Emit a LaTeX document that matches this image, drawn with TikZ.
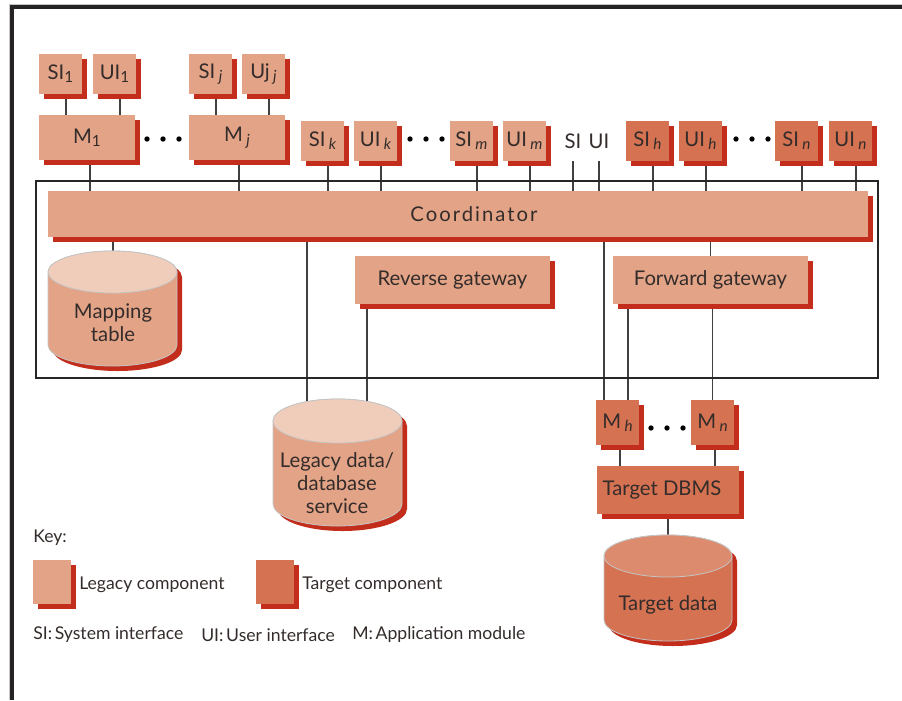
\documentclass[tikz,border=0pt]{standalone}
\usepackage{fontspec}
\setmainfont{Lato}
\usetikzlibrary{shadows,backgrounds}
\definecolor{leg}{HTML}{E3A387}
\definecolor{tgt}{HTML}{D57252}
\definecolor{shd}{HTML}{C22E1B}
\definecolor{legtop}{HTML}{F0CDBB}
\definecolor{tgttop}{HTML}{DD8B6E}
\definecolor{txt}{HTML}{332C2A}
\definecolor{cylline}{HTML}{C4C4C4}
\definecolor{frm}{HTML}{262324}
\newcommand{\lsub}[1]{\raisebox{-0.32ex}{\fontsize{11.5}{11.5}\selectfont #1}}
\newcommand{\isub}[1]{\,\raisebox{-0.32ex}{\fontsize{11.5}{11.5}\selectfont\itshape #1}}
\newcommand{\mycyl}[7]{%
  \fill[shd, xshift=3.75pt, yshift=-3.75pt] (#1-#2,#3) -- (#1-#2,#4)
    arc[start angle=180,end angle=360,x radius=#2*0.75pt,y radius=#5*0.75pt]
    -- (#1+#2,#3) arc[start angle=0,end angle=180,x radius=#2*0.75pt,y radius=#5*0.75pt] -- cycle;
  \filldraw[fill=#6, draw=cylline, line width=0.6pt] (#1-#2,#3) -- (#1-#2,#4)
    arc[start angle=180,end angle=360,x radius=#2*0.75pt,y radius=#5*0.75pt]
    -- (#1+#2,#3) arc[start angle=0,end angle=180,x radius=#2*0.75pt,y radius=#5*0.75pt] -- cycle;
  \filldraw[fill=#7, draw=cylline, line width=0.6pt] (#1,#3) ellipse[x radius=#2*0.75pt, y radius=#5*0.75pt];
}
\tikzset{
  base/.style={rectangle, inner sep=0pt, text=txt, font=\fontsize{15.2}{17.5}\selectfont, align=center},
  shad/.style={drop shadow={shadow xshift=4.1pt, shadow yshift=-4.1pt, fill=shd, opacity=1}},
  legbox/.style={base, shad, fill=leg},
  tgtbox/.style={base, shad, fill=tgt},
  small/.style={minimum width=32.25pt, minimum height=30pt},
  mod/.style={minimum width=72pt, minimum height=33.75pt},
  tmod/.style={minimum width=32.25pt, minimum height=33.75pt},
  gw/.style={minimum width=146.25pt, minimum height=36pt},
  conn/.style={draw=black!75, line width=0.8pt},
  plain/.style={base, small},
  keytext/.style={base, anchor=west, font=\fontsize{13.2}{16}\selectfont},
}
\begin{document}
\begin{tikzpicture}[x=0.75pt,y=-0.75pt]
\useasboundingbox (0,0) rectangle (902,700);
% outer frame
\draw[gray!45, line width=0.8pt] (10,700) -- (10,4.6) -- (902,4.6);
\draw[frm, line width=2.6pt] (12.2,700) -- (12.2,6.9) -- (902,6.9);
% inner frame
\draw[black!85, line width=0.8pt] (36,181) rectangle (878,378);

% top rows
\node[legbox, small] (SI1) at (60.5,74) {SI\lsub{1}};
\node[legbox, small] (UI1) at (114.5,74) {UI\lsub{1}};
\node[legbox, small] (SIj) at (210.5,74) {SI\isub{j}};
\node[legbox, small] (Ujj) at (263.5,74) {Uj\isub{j}};
\node[legbox, mod] (M1) at (87,137.5) {M\lsub{1}};
\node[legbox, mod] (Mj) at (237,137.5) {M\isub{j}};
\node[legbox, small] (SIk) at (322.5,141) {SI\isub{k}};
\node[legbox, small] (UIk) at (375.5,141) {UI\isub{k}};
\node[legbox, small] (SIm) at (471.5,141) {SI\isub{m}};
\node[legbox, small] (UIm) at (524.5,141) {UI\isub{m}};
\node[plain] (SIx) at (573,141) {SI};
\node[plain] (UIx) at (599,141) {UI};
\node[tgtbox, small] (SIh) at (647.5,141) {SI\isub{h}};
\node[tgtbox, small] (UIh) at (700.5,141) {UI\isub{h}};
\node[tgtbox, small] (SIn) at (796.5,141) {SI\isub{n}};
\node[tgtbox, small] (UIn) at (850.5,141) {UI\isub{n}};
\foreach \x in {147,163,179,410,426,442,736,752,768} \fill (\x,139) circle[radius=2pt];

% coordinator and gateways
\node[legbox, minimum width=615pt, minimum height=34.5pt] (coord) at (458,214)
  {\hspace*{24pt}\addfontfeature{LetterSpace=10}Coordinator};
\node[legbox, gw] (rev) at (452.5,280) {Reverse gateway};
\node[legbox, gw] (fwd) at (710.5,280) {Forward gateway};

% cylinders
\mycyl{112.5}{64.5}{272}{345}{21}{leg}{legtop}
\mycyl{337.5}{64.5}{421}{504}{22}{leg}{legtop}
\mycyl{668}{64}{556}{620}{21}{tgt}{tgttop}
\node[base] (maptab) at (113,323) {Mapping\\table};
\node[base] (legdata) at (337,483) {Legacy data/\\database\\service};
\node[base] (tgtdata) at (668,605) {Target data};
\coordinate (maptop) at (113,251);
\coordinate (legtopA) at (307,401.6);
\coordinate (legtopB) at (367,401.5);
\coordinate (tgttopc) at (668,535);

% target modules
\node[tgtbox, tmod] (Mh) at (617.5,422.5) {M\isub{h}};
\node[tgtbox, tmod] (Mn) at (712.5,422.5) {M\isub{n}};
\foreach \x in {651,667,683} \fill (\x,428) circle[radius=2pt];
\node[tgtbox, minimum width=106.5pt, minimum height=36pt] (dbms) at (668,490) {Target DBMS\hspace*{9pt}};

% key
\node[keytext] (key) at (33,538) {Key:};
\node[legbox, minimum width=28.5pt, minimum height=33pt] (klg) at (52,582) {};
\node[keytext] (klgt) at (79,585) {Legacy component};
\node[tgtbox, minimum width=28.5pt, minimum height=33pt] (ktg) at (274.5,582) {};
\node[keytext] (ktgt) at (302,585) {Target component};
\node[keytext] (ksi) at (33,635) {SI:\hspace{2pt}System interface};
\node[keytext] (kui) at (201,635) {UI:\hspace{2pt}User interface};
\node[keytext] (km) at (352,635) {M:\hspace{2pt}Application module};

% connectors
\begin{scope}[on background layer]
  \foreach \n/\m in {SI1/M1,UI1/M1,SIj/Mj,Ujj/Mj}
    \draw[conn] ([xshift=4.1pt]\n.south) -- ([xshift=4.1pt]\n.south |- \m.north);
  \draw[conn] ([xshift=2.25pt]M1.south) -- ([xshift=2.25pt]M1.south |- coord.north);
  \draw[conn] ([xshift=1.5pt]Mj.south) -- ([xshift=1.5pt]Mj.south |- coord.north);
  \foreach \n in {SIk,UIk,SIm,UIm,SIh,UIh,SIn,UIn}
    \draw[conn] ([xshift=4.1pt]\n.south) -- ([xshift=4.1pt]\n.south |- coord.north);
  \draw[conn] (SIx.south) -- (SIx.south |- coord.north);
  \draw[conn] (UIx.south) -- (UIx.south |- coord.north);
  \draw[conn] (coord.south -| maptop) -- (maptop);
  \draw[conn] (coord.south -| legtopA) -- (legtopA);
  \draw[conn] (rev.south -| legtopB) -- (legtopB);
  \draw[conn] (fwd.north |- coord.south) -- (fwd.north);
  \coordinate (mhA) at ([xshift=-10.125pt]Mh.north);
  \coordinate (mhB) at ([xshift=7.875pt]Mh.north);
  \draw[conn] (mhA |- coord.south) -- (mhA);
  \draw[conn] (mhB |- fwd.south) -- (mhB);
  \draw[conn] (Mn.north |- fwd.south) -- (Mn.north);
  \draw[conn] ([xshift=1.875pt]Mh.south) -- ([xshift=1.875pt]Mh.south |- dbms.north);
  \draw[conn] ([xshift=1.875pt]Mn.south) -- ([xshift=1.875pt]Mn.south |- dbms.north);
  \draw[conn] (dbms.south -| tgttopc) -- (tgttopc);
\end{scope}
\end{tikzpicture}
\end{document}
